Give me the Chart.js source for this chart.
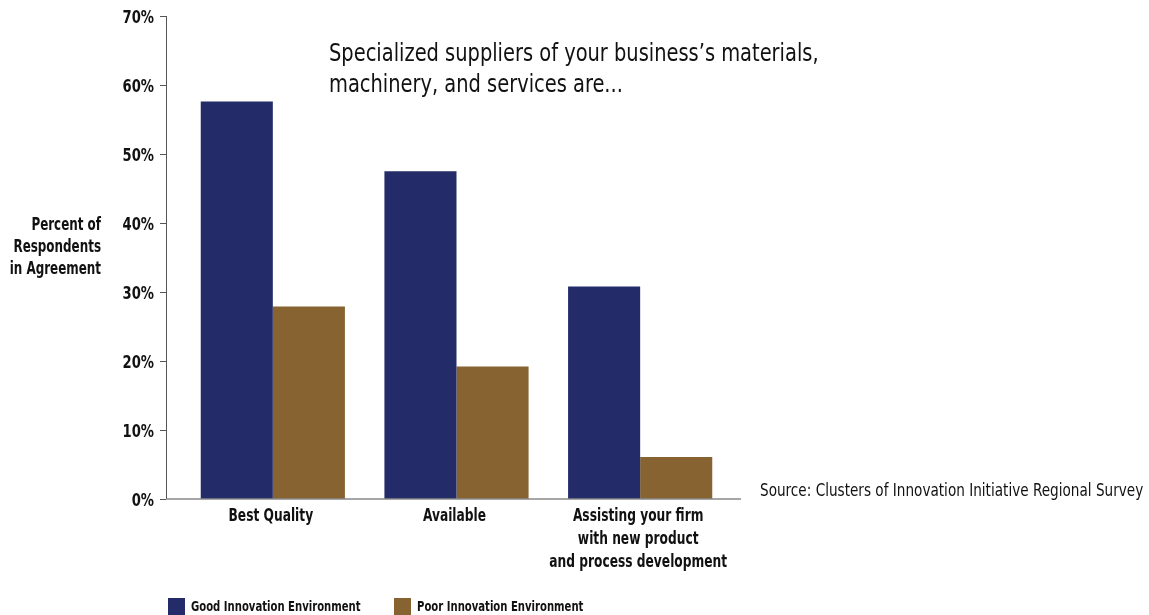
<!DOCTYPE html>
<html>
<head>
<meta charset="utf-8">
<script src="https://cdn.jsdelivr.net/npm/chart.js@4.4.1/dist/chart.umd.min.js"></script>
<style>
  html, body { margin: 0; padding: 0; background: #fff; }
  #wrap { width: 1149px; height: 615px; position: relative; }
</style>
</head>
<body>
<div id="wrap"><canvas id="chart" width="1149" height="615"></canvas></div>
<script>
  // data
  var categories = [['Best Quality'], ['Available'], ['Assisting your firm', 'with new product', 'and process development']];
  var seriesNames = ['Good Innovation Environment', 'Poor Innovation Environment'];
  var goodEnv = [57.6, 47.5, 30.8];
  var poorEnv = [27.9, 19.2, 6.1];
  var yMax = 70;
  var yStep = 10;
  var titleLines = ['Specialized suppliers of your business\u2019s materials,', 'machinery, and services are...'];
  var yTitleLines = ['Percent of', 'Respondents', 'in Agreement'];
  var sourceText = 'Source: Clusters of Innovation Initiative Regional Survey';

  var NAVY = '#232c69';
  var BROWN = '#876331';
  var FAM = '"Liberation Sans Narrow", "DejaVu Sans Condensed", sans-serif';

  // squeezed text, the original uses a very condensed face
  function txt(ctx, s, x, y, font, sx, align) {
    ctx.save();
    ctx.font = font;
    ctx.textAlign = align || 'left';
    ctx.textBaseline = 'middle';
    ctx.translate(x, y);
    ctx.scale(sx, 1);
    ctx.fillText(s, 0, 0);
    ctx.restore();
  }

  // axes, ticks, labels, legend and notes drawn by hand so they sit where the original has them
  var decor = {
    id: 'decor',
    afterDraw: function(chart) {
      var ctx = chart.ctx;
      var area = chart.chartArea;
      var y = chart.scales.y;
      var x = chart.scales.x;
      var ax = area.left - 15;
      ctx.save();
      // y axis line + ticks
      ctx.strokeStyle = '#555';
      ctx.lineWidth = 1;
      ctx.beginPath();
      ctx.moveTo(ax + 0.5, y.getPixelForValue(yMax));
      ctx.lineTo(ax + 0.5, y.getPixelForValue(0));
      y.ticks.forEach(function(t) {
        var py = Math.round(y.getPixelForValue(t.value)) + 0.5;
        ctx.moveTo(ax - 6, py);
        ctx.lineTo(ax, py);
      });
      ctx.stroke();
      // baseline
      ctx.strokeStyle = '#888';
      ctx.lineWidth = 1.5;
      ctx.beginPath();
      var by = y.getPixelForValue(0);
      ctx.moveTo(ax, by);
      ctx.lineTo(area.right + 9, by);
      ctx.stroke();

      ctx.fillStyle = '#111';
      var bold = 'bold 17px ' + FAM;
      // y tick labels
      y.ticks.forEach(function(t) {
        txt(ctx, t.value + '%', ax - 12, y.getPixelForValue(t.value) + 3, bold, 0.86, 'right');
      });
      // category labels
      categories.forEach(function(lines, i) {
        var cx = x.getPixelForValue(i);
        lines.forEach(function(l, j) {
          txt(ctx, l, cx - 2, by + 18 + j * 23, bold, 0.8, 'center');
        });
      });
      // y title
      yTitleLines.forEach(function(l, i) {
        txt(ctx, l, 101, 226 + i * 22, bold, 0.78, 'right');
      });

      // chart note
      titleLines.forEach(function(l, i) {
        txt(ctx, l, 329, 55 + i * 31, '24px ' + FAM, 0.9, 'left');
      });

      // source
      txt(ctx, sourceText, 760, 492, '17px ' + FAM, 0.89, 'left');

      // legend
      var lx = [168, 394];
      chart.data.datasets.forEach(function(ds, i) {
        ctx.fillStyle = ds.backgroundColor;
        ctx.fillRect(lx[i], 598, 17, 17);
        ctx.fillStyle = '#111';
        txt(ctx, ds.label, lx[i] + 23, 607, 'bold 14px ' + FAM, 0.8, 'left');
      });
      ctx.restore();
    }
  };

  new Chart(document.getElementById('chart'), {
    type: 'bar',
    data: {
      labels: categories.map(function(c) { return c.join(' '); }),
      datasets: [
        { label: seriesNames[0], data: goodEnv, backgroundColor: NAVY },
        { label: seriesNames[1], data: poorEnv, backgroundColor: BROWN }
      ]
    },
    options: {
      responsive: false,
      animation: false,
      layout: { padding: { top: 16, right: 417, bottom: 0, left: 0 } },
      datasets: { bar: { categoryPercentage: 0.785, barPercentage: 1.0 } },
      plugins: { legend: { display: false }, tooltip: { enabled: false } },
      scales: {
        x: {
          grid: { display: false, drawTicks: false },
          border: { display: false },
          ticks: { display: false },
          afterFit: function(s) { s.height = 116; }
        },
        y: {
          min: 0,
          max: yMax,
          grid: { display: false, drawTicks: false },
          border: { display: false },
          ticks: { display: false, stepSize: yStep },
          afterFit: function(s) { s.width = 181; }
        }
      }
    },
    plugins: [decor]
  });
</script>
</body>
</html>
